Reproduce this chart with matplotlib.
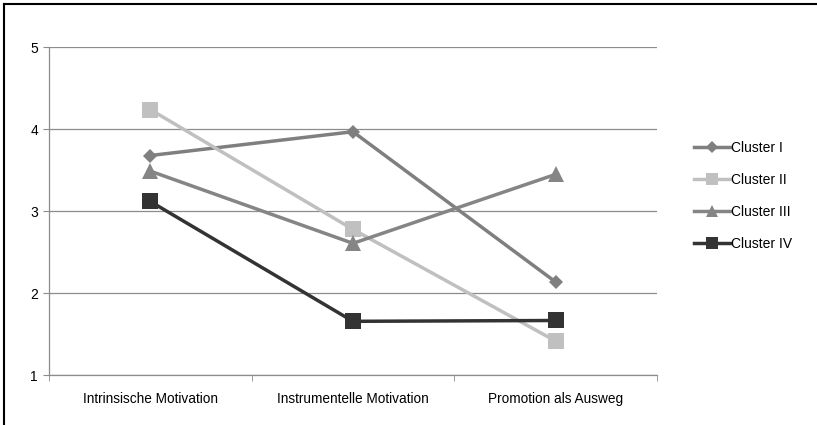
import matplotlib
matplotlib.use("Agg")
import matplotlib.pyplot as plt
from matplotlib.lines import Line2D

plt.rcParams['font.family'] = ['Liberation Sans', 'DejaVu Sans']

categories = ['Intrinsische Motivation', 'Instrumentelle Motivation', 'Promotion als Ausweg']
cluster_names = ['Cluster I', 'Cluster II', 'Cluster III', 'Cluster IV']
cluster_1 = [3.68, 3.97, 2.14]
cluster_2 = [4.24, 2.78, 1.42]
cluster_3 = [3.49, 2.61, 3.45]
cluster_4 = [3.12, 1.66, 1.67]
y_ticks = [1, 2, 3, 4, 5]

series = [cluster_1, cluster_2, cluster_3, cluster_4]
colors = ['#7f7f7f', '#c0c0c0', '#858585', '#333333']
markers = ['D', 's', '^', 's']
msizes = [7.5, 11, 11, 11]

fig = plt.figure(figsize=(8.17, 4.25), dpi=100)
ax = fig.add_axes([0.06, 0.1165, 0.744, 0.7725])

x = list(range(len(categories)))
for vals, name, c, m, ms in zip(series, cluster_names, colors, markers, msizes):
    ax.plot(x, vals, color=c, lw=2.5, marker=m, markersize=ms,
            markeredgewidth=0, label=name, zorder=3)

ax.set_xlim(-0.5, len(categories) - 0.5)
ax.set_ylim(1, 5)
ax.set_yticks(y_ticks)
ax.yaxis.grid(True, color='#8c8c8c', lw=0.9, zorder=0)
ax.set_xticks(x)
ax.set_xticklabels(categories, fontsize=9.8)
ax.tick_params(axis='x', length=0, pad=12)
ax.set_xticks([i - 0.5 for i in range(len(categories) + 1)], minor=True)
ax.tick_params(axis='x', which='minor', length=4, color='#8c8c8c', direction='out')
ax.tick_params(axis='y', length=4, color='#8c8c8c', labelsize=10, pad=4)
for s in ['top', 'right']:
    ax.spines[s].set_visible(False)
for s in ['left', 'bottom']:
    ax.spines[s].set_color('#8c8c8c')
    ax.spines[s].set_linewidth(0.9)

handles = [Line2D([0], [0], color=c, lw=2.5, marker=m, markersize=ms * 0.8,
                  markeredgewidth=0)
           for c, m, ms in zip(colors, markers, msizes)]
fig.legend(handles, cluster_names, loc='center left',
           bbox_to_anchor=(0.834, 0.539), frameon=False, fontsize=10,
           handlelength=2.6, handletextpad=0.1, labelspacing=1.3)

# border of the chart area
fig.add_artist(Line2D([0.005, 1.0], [0.991, 0.991], color='black', lw=1.5,
                      transform=fig.transFigure))
fig.add_artist(Line2D([0.005, 0.005], [0.0, 0.991], color='black', lw=1.5,
                      transform=fig.transFigure))

fig.savefig('out.png', dpi=100)
